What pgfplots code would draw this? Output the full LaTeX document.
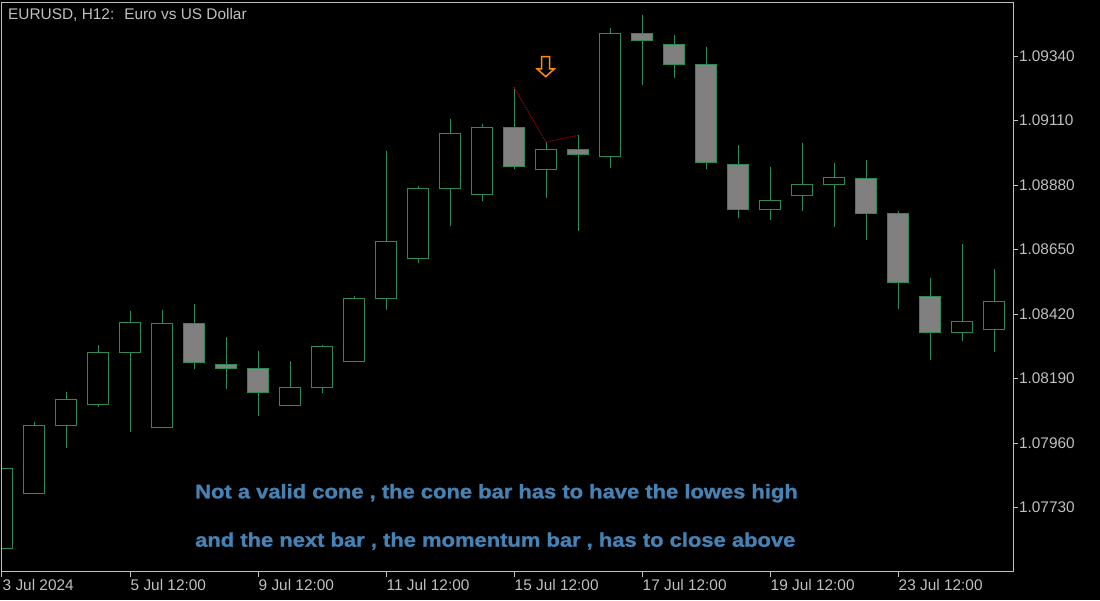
\documentclass[border=0pt]{standalone}
\usepackage{fontspec}
\setmainfont{Liberation Sans}
\newfontfamily\annfont{Liberation Sans}[FakeStretch=1.12, FakeBold=1.2]
\usepackage{pgfplots}
\usepackage{pgfplotstable}
\pgfplotsset{compat=1.18}

\definecolor{mtgreen}{RGB}{46,139,87}
\definecolor{mtgray}{RGB}{128,128,128}
\definecolor{mtsilver}{RGB}{192,192,192}
\definecolor{mtblue}{RGB}{70,130,180}
\definecolor{mtred}{RGB}{150,0,0}
\definecolor{mtorange}{RGB}{255,140,0}

\newcommand\tickfont{\fontsize{15.4}{18}\selectfont}
\newcommand\annsize{\annfont\bfseries\fontsize{19.6}{24}\selectfont}

% EURUSD H12 candles: index, open, high, low, close
\pgfplotstableread{
i  o       h       l       c
0  1.07585 1.07870 1.07585 1.07870
1  1.07781 1.08034 1.07781 1.08023
2  1.08023 1.08141 1.07943 1.08116
3  1.08098 1.08310 1.08089 1.08283
4  1.08283 1.08431 1.08000 1.08390
5  1.08016 1.08434 1.08016 1.08387
6  1.08387 1.08456 1.08225 1.08248
7  1.08241 1.08338 1.08154 1.08226
8  1.08226 1.08288 1.08057 1.08141
9  1.08094 1.08252 1.08094 1.08159
10 1.08159 1.08310 1.08137 1.08305
11 1.08251 1.08484 1.08251 1.08476
12 1.08476 1.09001 1.08435 1.08679
13 1.08619 1.08876 1.08601 1.08868
14 1.08868 1.09115 1.08735 1.09064
15 1.08847 1.09098 1.08824 1.09086
16 1.09086 1.09228 1.08936 1.08947
17 1.08936 1.09033 1.08835 1.09007
18 1.09007 1.09057 1.08717 1.08990
19 1.08982 1.09440 1.08942 1.09421
20 1.09421 1.09486 1.09238 1.09396
21 1.09382 1.09415 1.09263 1.09310
22 1.09310 1.09372 1.08938 1.08961
23 1.08954 1.09023 1.08763 1.08793
24 1.08793 1.08944 1.08756 1.08825
25 1.08843 1.09030 1.08788 1.08883
26 1.08883 1.08958 1.08731 1.08907
27 1.08902 1.08969 1.08683 1.08779
28 1.08779 1.08786 1.08439 1.08533
29 1.08483 1.08548 1.08257 1.08355
30 1.08355 1.08669 1.08325 1.08394
31 1.08365 1.08581 1.08286 1.08465
}\candles

\pgfdeclareplotmark{darrow}{%
  \pgfpathmoveto{\pgfqpoint{-4pt}{10pt}}%
  \pgfpathlineto{\pgfqpoint{4pt}{10pt}}%
  \pgfpathlineto{\pgfqpoint{4pt}{-2.3pt}}%
  \pgfpathlineto{\pgfqpoint{8.5pt}{-2.3pt}}%
  \pgfpathlineto{\pgfqpoint{0pt}{-10pt}}%
  \pgfpathlineto{\pgfqpoint{-8.5pt}{-2.3pt}}%
  \pgfpathlineto{\pgfqpoint{-4pt}{-2.3pt}}%
  \pgfpathclose
  \pgfusepathqstroke}

\pgfplotsset{
  mtaxis/.style={
    at={(2pt,28.5pt)}, anchor=south west,
    scale only axis, width=1011.3pt, height=569pt,
    xmin=0, xmax=31.603,
    ymin=1.075018, ymax=1.095308,
  }
}

\begin{document}
\begin{tikzpicture}
\path[use as bounding box, fill=black] (0pt,0pt) rectangle (1100pt,600pt);

% frame, ticks, wicks, markup
\begin{axis}[mtaxis,
  axis line style={mtsilver, line width=1pt},
  tick style={mtsilver, line width=1pt},
  tick align=outside, major tick length=5pt,
  xtick pos=bottom, ytick pos=right, yticklabel pos=right,
  xtick={0,4,8,12,16,20,24,28},
  xticklabels={3 Jul 2024, 5 Jul 12:00, 9 Jul 12:00, 11 Jul 12:00,
    15 Jul 12:00, 17 Jul 12:00, 19 Jul 12:00, 23 Jul 12:00},
  ytick={1.0773,1.0796,1.0819,1.0842,1.0865,1.0888,1.0911,1.0934},
  scaled y ticks=false,
  ticklabel style={font=\tickfont, text=mtsilver, inner sep=0pt},
  xticklabel style={anchor=north west, xshift=0.5pt, yshift=-2.5pt},
  yticklabel style={anchor=west, xshift=0.5pt,
    /pgf/number format/fixed, /pgf/number format/fixed zerofill,
    /pgf/number format/precision=5, /pgf/number format/assume math mode=true},
]
\addplot[draw=none, mark=none,
  error bars/.cd, y dir=plus, y explicit, error mark=none,
  error bar style={draw=mtgreen, line width=1pt}]
  table[x=i, y=l, y error expr=\thisrow{h}-\thisrow{l}] \candles;
\addplot[mtred, line width=1pt, dash pattern=on 1.5pt off 1pt]
  coordinates {(16,1.09228) (17,1.09033) (18,1.09057)};
\addplot[mtorange, line width=1.5pt, only marks, mark=darrow]
  coordinates {(16.99,1.09302)};
\end{axis}

% candle bodies
\begin{axis}[mtaxis, hide axis, ybar stacked, bar width=21pt]
\addplot[draw=none, fill=none]
  table[x=i, y expr={min(\thisrow{o},\thisrow{c})}] \candles;
\addplot[draw=mtgreen, fill=black, line width=1pt]
  table[x=i, y expr={max(\thisrow{c}-\thisrow{o},0)}] \candles;
\addplot[draw=mtgreen, fill=mtgray, line width=1pt]
  table[x=i, y expr={max(\thisrow{o}-\thisrow{c},0)}] \candles;
\end{axis}

\node[anchor=base west, inner sep=0pt, text=mtsilver, font=\tickfont]
  at (8pt,580pt) {EURUSD, H12: \ Euro vs US Dollar};
\node[anchor=base west, inner sep=0pt, text=mtblue, font=\annsize]
  at (195pt,101.7pt) {Not a valid cone , the cone bar has to have the lowes high};
\node[anchor=base west, inner sep=0pt, text=mtblue, font=\annsize]
  at (195pt,53.3pt) {and the next bar , the momentum bar , has to close above};
\end{tikzpicture}
\end{document}
